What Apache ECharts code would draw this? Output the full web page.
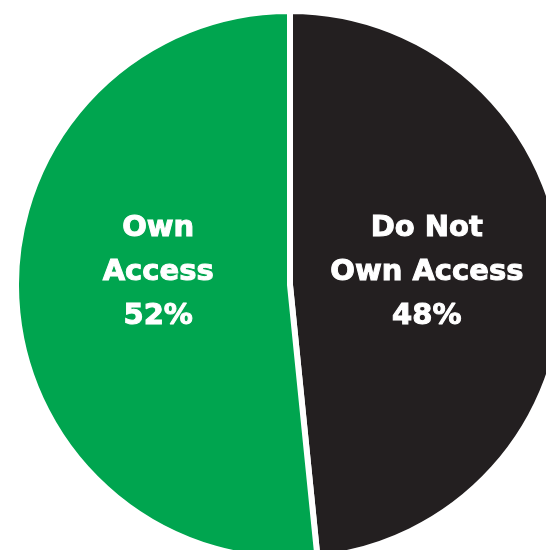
<!DOCTYPE html>
<html>
<head>
<meta charset="utf-8">
<script src="https://cdn.jsdelivr.net/npm/echarts@6/dist/echarts.min.js"></script>
<style>
html,body{margin:0;padding:0;background:#fff;}
#chart{width:546px;height:550px;}
</style>
</head>
<body>
<div id="chart"></div>
<script>
const categories = ["Do Not\nOwn Access", "Own\nAccess"];
const values = [48.4, 51.6];
const colors = ["#231F20", "#00A54F"];
const labelOffsets = [[-3, -5], [8, -20]];

const chart = echarts.init(document.getElementById('chart'), null, {renderer: 'canvas'});
chart.setOption({
  animation: false,
  series: [{
    type: 'pie',
    center: [290, 285],
    radius: [0, 274],
    startAngle: 90,
    clockwise: true,
    silent: true,
    itemStyle: {borderColor: '#ffffff', borderWidth: 6},
    label: {
      show: true,
      position: 'inside',
      color: '#ffffff',
      fontFamily: 'DejaVu Sans',
      fontWeight: 'bold',
      fontSize: 29,
      lineHeight: 44,
      align: 'center',
      textBorderColor: '#ffffff',
      textBorderWidth: 1,
      formatter: function (p) { return p.name + '\n' + Math.round(p.value) + '%'; }
    },
    labelLine: {show: false},
    data: categories.map(function (c, i) {
      return {name: c, value: values[i], itemStyle: {color: colors[i]}, label: {offset: labelOffsets[i]}};
    })
  }]
});
</script>
</body>
</html>
